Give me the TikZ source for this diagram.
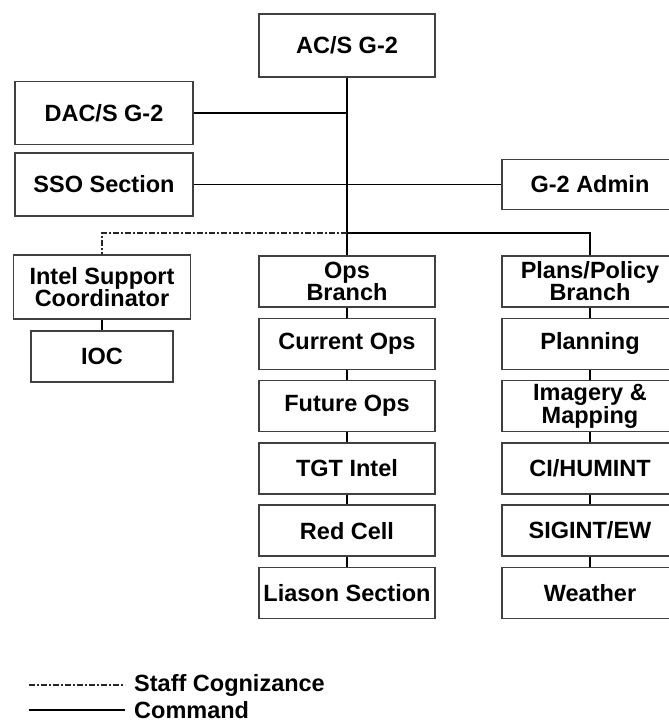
\documentclass[tikz,border=0pt]{standalone}
\usepackage{fontspec}
\setmainfont{Liberation Sans}
\usetikzlibrary{positioning, calc}
\tikzset{
	block/.style={rectangle, draw=black!75, line width=1.6pt, minimum width=176pt, minimum height=51pt, inner sep=0pt, align=center, font=\fontsize{23.5}{22}\selectfont\bfseries},
	command/.style={draw, line width=1.8pt},
	staff/.style={draw=black!85, line width=1.8pt, dash pattern=on 6pt off 2pt on 2pt off 2pt},
	legend/.style={anchor=west, inner xsep=9pt, inner ysep=0pt, font=\fontsize{23.5}{22}\selectfont\bfseries}
}

\begin{document}
\begin{tikzpicture}[x=1pt, y=-1pt]
	\useasboundingbox (0,0) rectangle (669,724);
	\clip (0,0) rectangle (669,724);
	
	% Head and staff boxes
	\node[block, minimum height=63pt] (ac_s_g2) at (347,45.5) {AC/S G-2};
	\node[block, minimum width=178pt, minimum height=63pt] (dac_s_g2) at (104,113) {DAC/S G-2};
	\node[block, minimum width=178pt, minimum height=63pt] (sso_section) at (104,184.5) {SSO Section};
	\node[block, minimum height=50pt] (g2_admin) at (590,184.5) {G-2 Admin};
	
	% Intel support column (left)
	\node[block, minimum width=177pt, minimum height=64pt] (intel_support) at (102,287) {Intel Support\\Coordinator};
	\node[block, minimum width=142pt] (ioc) at (102,356.5) {IOC};
	
	% Ops column (middle)
	\node[block] (ops_branch) at (347,281.5) {Ops\\Branch};
	\node[block] (current_ops) at ($(ops_branch)+(0,62.3)$) {Current Ops};
	\node[block] (future_ops) at ($(current_ops)+(0,62.3)$) {Future Ops};
	\node[block] (tgt_intel) at ($(future_ops)+(0,62.3)$) {TGT Intel};
	\node[block] (red_cell) at ($(tgt_intel)+(0,62.3)$) {Red Cell};
	\node[block] (liason_section) at ($(red_cell)+(0,62.3)$) {Liason Section};
	
	% Plans/Policy column (right)
	\node[block] (plans_branch) at (590,281.5) {Plans/Policy\\Branch};
	\node[block] (planning) at ($(plans_branch)+(0,62.3)$) {Planning};
	\node[block] (imagery_mapping) at ($(planning)+(0,62.3)$) {Imagery \&\\Mapping};
	\node[block] (ci_humint) at ($(imagery_mapping)+(0,62.3)$) {CI/HUMINT};
	\node[block] (sigint_ew) at ($(ci_humint)+(0,62.3)$) {SIGINT/EW};
	\node[block] (weather) at ($(sigint_ew)+(0,62.3)$) {Weather};
	
	% main spine and staff links
	\draw[command] (ac_s_g2) -- (ops_branch);
	\draw[command] (dac_s_g2.east) -- (dac_s_g2.east -| ac_s_g2.south);
	\draw[command] (sso_section.east) -- (g2_admin.west);
	
	% branch bus
	\coordinate (bus_junction) at (347,233);
	\draw[staff] (bus_junction) -| (intel_support.north);
	\draw[command] (bus_junction) -| (plans_branch.north);
	\draw[command] (intel_support) -- (ioc);
	
	% chain the ops boxes
	\draw[command] (ops_branch) -- (current_ops);
	\draw[command] (current_ops) -- (future_ops);
	\draw[command] (future_ops) -- (tgt_intel);
	\draw[command] (tgt_intel) -- (red_cell);
	\draw[command] (red_cell) -- (liason_section);
	
	% chain the plans boxes
	\draw[command] (plans_branch) -- (planning);
	\draw[command] (planning) -- (imagery_mapping);
	\draw[command] (imagery_mapping) -- (ci_humint);
	\draw[command] (ci_humint) -- (sigint_ew);
	\draw[command] (sigint_ew) -- (weather);
	
	% Legend
	\coordinate (legend_staff_start) at (29,685);
	\coordinate (legend_command_start) at (29,710);
	\node[legend] (legend_staff) at (125,685) {Staff Cognizance};
	\node[legend] (legend_command) at (125,710) {Command};
	\draw[staff] (legend_staff_start) -- (legend_staff.west);
	\draw[command] (legend_command_start) -- (legend_command.west);
	
\end{tikzpicture}
\end{document}
